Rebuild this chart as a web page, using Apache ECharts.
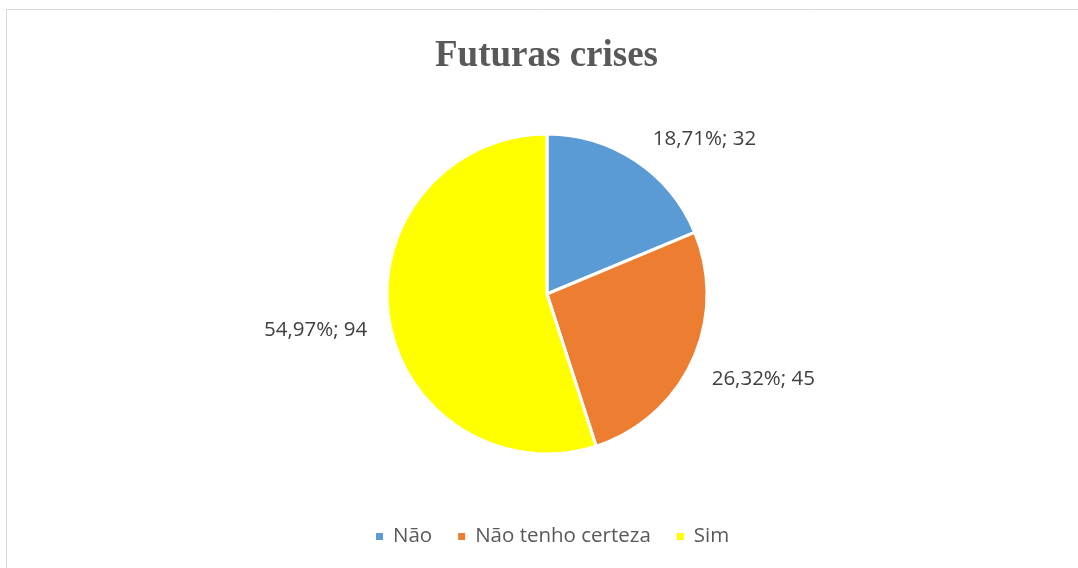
<!DOCTYPE html>
<html>
<head>
<meta charset="utf-8">
<script src="https://cdn.jsdelivr.net/npm/echarts@6/dist/echarts.min.js"></script>
<style>
  html, body { margin: 0; padding: 0; background: #fff; }
  #chart { width: 1078px; height: 568px; }
</style>
</head>
<body>
<div id="chart"></div>
<script>
const categories = ["Não", "Não tenho certeza", "Sim"];
const counts = [32, 45, 94];
const colors = ["#5B9BD5", "#ED7D31", "#FFFF00"];

const chart = echarts.init(document.getElementById('chart'), null, {renderer: 'canvas'});

const pieData = categories.map(function (name, i) {
    return {name: name, value: counts[i], itemStyle: {color: colors[i]}};
});

// nudge outside labels toward where Excel puts them
const labelNudge = [[-4, 2], [-12, 6], [12, 7]];

const option = {
    animation: false,
    title: {
        text: "Futuras crises",
        left: 430,
        top: 33,
        textStyle: {
            fontFamily: "Liberation Serif",
            fontWeight: "bold",
            fontSize: 37,
            color: "#595959"
        }
    },
    graphic: [{
        type: "rect",
        shape: {x: 6.5, y: 9.5, width: 1090, height: 600},
        style: {fill: "none", stroke: "#d9d9d9", lineWidth: 1},
        silent: true
    }],
    legend: {
        data: categories,
        left: 369,
        bottom: 16,
        icon: "rect",
        itemWidth: 9,
        itemHeight: 9,
        itemGap: 24,
        textStyle: {
            fontFamily: "Open Sans",
            fontSize: 20.5,
            color: "#595959",
            padding: [0, 0, 0, 4]
        }
    },
    series: [{
        type: "pie",
        center: [547, 294],
        radius: 160,
        startAngle: 90,
        clockwise: true,
        percentPrecision: 2,
        avoidLabelOverlap: false,
        data: pieData,
        itemStyle: {borderColor: "#fff", borderWidth: 3},
        label: {
            show: true,
            position: "outside",
            fontFamily: "Open Sans",
            fontSize: 20.5,
            color: "#404040",
            formatter: function (p) {
                return p.percent.toFixed(2).replace(".", ",") + "%; " + p.value;
            }
        },
        labelLine: {show: false, length: 29, length2: 0},
        labelLayout: function (params) {
            const n = labelNudge[params.dataIndex];
            return {dx: n[0], dy: n[1]};
        },
        emphasis: {disabled: true}
    }]
};
chart.setOption(option);
</script>
</body>
</html>
